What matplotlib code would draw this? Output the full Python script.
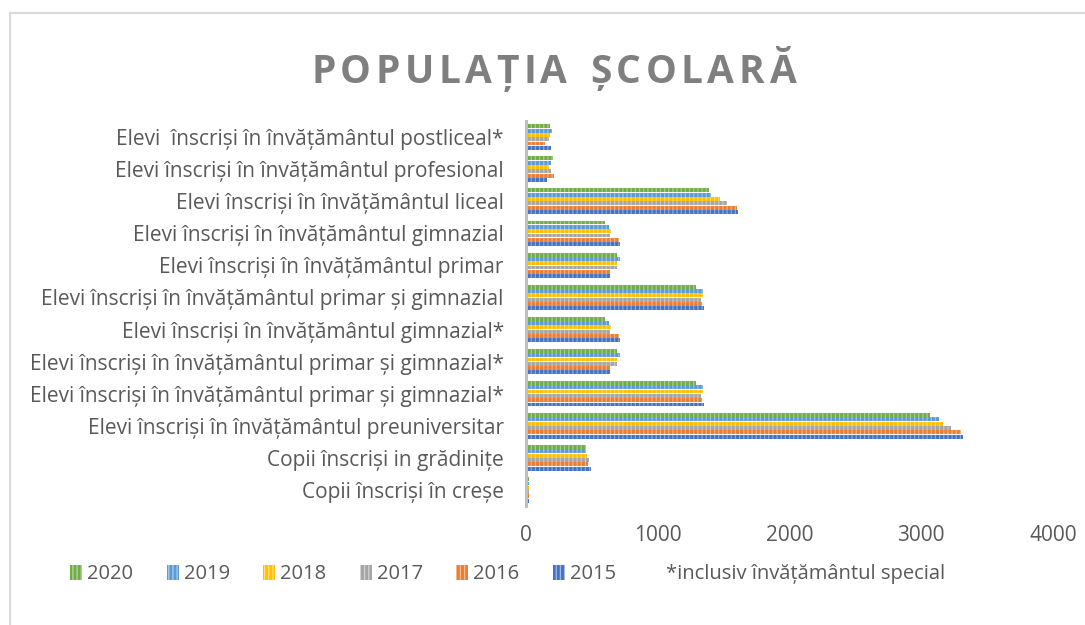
import matplotlib
matplotlib.use("Agg")
import matplotlib.pyplot as plt
import numpy as np
from matplotlib.patches import Patch
from matplotlib.lines import Line2D

plt.rcParams['font.family'] = ['Open Sans', 'DejaVu Sans']
plt.rcParams['hatch.linewidth'] = 0.9

# categories listed top to bottom as in the chart
categories = [
    "Elevi  înscriși în învățământul postliceal*",
    "Elevi înscriși în învățământul profesional",
    "Elevi înscriși în învățământul liceal",
    "Elevi înscriși în învățământul gimnazial",
    "Elevi înscriși în învățământul primar",
    "Elevi înscriși în învățământul primar și gimnazial",
    "Elevi înscriși în învățământul gimnazial*",
    "Elevi înscriși în învățământul primar și gimnazial*",
    "Elevi înscriși în învățământul primar și gimnazial*",
    "Elevi înscriși în învățământul preuniversitar",
    "Copii înscriși in grădinițe",
    "Copii înscriși în creșe",
]

years = ["2015", "2016", "2017", "2018", "2019", "2020"]
v2015 = [190, 162, 1610, 714, 636, 1354, 714, 636, 1354, 3318, 494, 25]
v2016 = [144, 213, 1604, 704, 636, 1336, 704, 636, 1336, 3301, 473, 24]
v2017 = [175, 190, 1524, 640, 689, 1327, 640, 689, 1327, 3225, 478, 22]
v2018 = [182, 172, 1473, 643, 693, 1342, 643, 693, 1342, 3164, 463, 24]
v2019 = [197, 188, 1402, 628, 711, 1344, 628, 711, 1344, 3134, 458, 22]
v2020 = [182, 207, 1387, 602, 689, 1289, 602, 689, 1289, 3065, 458, 25]
series = [v2015, v2016, v2017, v2018, v2019, v2020]
colors = ["#4472C4", "#ED7D31", "#A5A5A5", "#FFC000", "#5B9BD5", "#70AD47"]

text_color = "#595959"

fig = plt.figure(figsize=(10.85, 6.25), dpi=100)
ax = fig.add_axes([0.4848, 0.1904, 0.9705 - 0.4848, 0.8064 - 0.1904])

n = len(categories)
ypos = np.arange(n)[::-1]  # first category at the top
step = 0.135
height = 0.122
handles = []
for k, (yr, vals, col) in enumerate(zip(years, series, colors)):
    offs = (k - 2.5) * step
    ax.barh(ypos + offs, vals, height=height, color=col,
            edgecolor=(1, 1, 1, 0.38), linewidth=0, hatch='||||')
    handles.append(Patch(facecolor=col, edgecolor=(1, 1, 1, 0.5),
                         linewidth=0, hatch='||||', label=yr))

ax.set_xlim(0, 4000)
ax.set_ylim(-0.5, n - 0.5)
ax.set_xticks([0, 1000, 2000, 3000, 4000])
ax.set_yticks(ypos)
ax.set_yticklabels(categories)
ax.tick_params(axis='y', length=0, pad=16, labelsize=15, labelcolor=text_color)
ax.tick_params(axis='x', length=0, pad=14, labelsize=15, labelcolor=text_color)
for side in ['top', 'right', 'bottom']:
    ax.spines[side].set_visible(False)
ax.spines['left'].set_color('#BFBFBF')
ax.spines['left'].set_linewidth(2.2)

# legend: years reversed plus the footnote entry
leg_handles = handles[::-1] + [Line2D([], [], color='none', label="*inclusiv învățământul special")]
fig.legend(handles=leg_handles, loc='center', bbox_to_anchor=(0.468, 0.081),
           ncol=7, frameon=False, fontsize=14.5, labelcolor=text_color,
           handlelength=0.6, handleheight=0.75, handletextpad=0.25,
           columnspacing=1.65)

# title with wide letter spacing
title = "POPULAȚIA ȘCOLARĂ"
renderer = fig.canvas.get_renderer()
tracking = 4.5  # extra pixels between letters
pieces = []
widths = []
for ch in title:
    t = fig.text(0, 0.884, ch, fontsize=28, fontweight='bold', color='#7F7F7F',
                 va='center', ha='left')
    w = t.get_window_extent(renderer).width if ch != ' ' else 14
    pieces.append(t)
    widths.append(w)
total = sum(widths) + tracking * (len(title) - 1)
x = 553.5 - total / 2
for t, w in zip(pieces, widths):
    t.set_x(x / 1085)
    x += w + tracking

# chart border
fig.add_artist(Line2D([10 / 1085, 10 / 1085], [0, 1 - 13 / 625], color='#D9D9D9',
                      lw=1.5, transform=fig.transFigure))
fig.add_artist(Line2D([10 / 1085, 1], [1 - 13 / 625, 1 - 13 / 625], color='#D9D9D9',
                      lw=1.5, transform=fig.transFigure))

fig.savefig("out.png", dpi=100)
